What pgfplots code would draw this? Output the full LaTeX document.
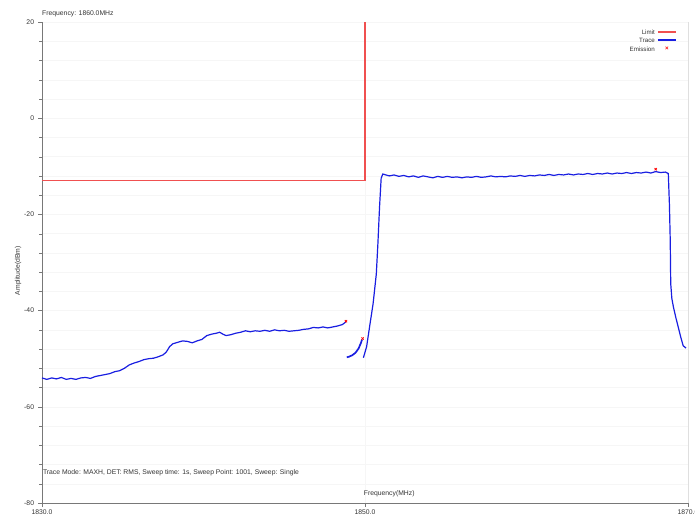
\documentclass[border=0pt]{standalone}
\usepackage{fontspec}
\setmainfont{Liberation Sans}
\usepackage{pgfplots}
\pgfplotsset{compat=1.18}

\definecolor{limitred}{RGB}{240,80,80}
\definecolor{traceblue}{RGB}{25,30,225}
\definecolor{axgray}{RGB}{120,120,120}

\begin{document}
\fontsize{6.8}{7.5}\selectfont
\begin{tikzpicture}
\path[use as bounding box] (-42pt,-19pt) rectangle (653pt,503pt);
\begin{axis}[
    at={(0,0)}, anchor=south west,
    width=646pt, height=481pt, scale only axis,
    xmin=1830, xmax=1870, ymin=-80, ymax=20,
    clip=false,
    axis x line*=bottom, axis y line*=left,
    axis line style={axgray, -},
    xtick={1830,1850,1870},
    ytick={-80,-60,-40,-20,0,20},
    minor y tick num=4,
    tick style={axgray},
    tick align=outside,
    major tick length=4pt, minor tick length=3pt,
    ymajorgrids, yminorgrids, xmajorgrids,
    grid style={gray!7},
    /pgf/number format/assume math mode=true,
    ticklabel style={font=\fontsize{6.8}{7.5}\selectfont, text=black!80},
    yticklabel style={xshift=-1.5pt},
    x tick label style={/pgf/number format/.cd, fixed, fixed zerofill, precision=1, 1000 sep={}},
]
% limit mask
\addplot[color=limitred, line width=1.2pt]
  coordinates {(1830,-13) (1850,-13) (1850,20)};

% trace, out-of-band lower part
\addplot[traceblue, line width=1.2pt] coordinates {
(1830.0,-54.0) (1830.3,-54.3) (1830.6,-54.0) (1830.9,-54.2) (1831.2,-53.9)
(1831.5,-54.3) (1831.8,-54.1) (1832.1,-54.3) (1832.4,-54.0) (1832.7,-53.9)
(1833.0,-54.1) (1833.3,-53.7) (1833.6,-53.5) (1833.9,-53.3) (1834.2,-53.1)
(1834.5,-52.7) (1834.8,-52.5) (1835.1,-52.0) (1835.4,-51.3) (1835.7,-50.9)
(1836.0,-50.6) (1836.3,-50.2) (1836.6,-50.0) (1836.9,-49.9) (1837.2,-49.6)
(1837.5,-49.2) (1837.7,-48.6) (1837.9,-47.5) (1838.1,-46.9) (1838.4,-46.6)
(1838.7,-46.3) (1839.0,-46.4) (1839.3,-46.7) (1839.6,-46.3) (1839.9,-46.0)
(1840.2,-45.2) (1840.5,-44.9) (1840.8,-44.7) (1841.0,-44.5) (1841.2,-44.9)
(1841.4,-45.2) (1841.7,-45.0) (1842.0,-44.7) (1842.3,-44.5) (1842.6,-44.2)
(1842.9,-44.4) (1843.2,-44.2) (1843.5,-44.3) (1843.8,-44.1) (1844.1,-44.3)
(1844.4,-44.0) (1844.7,-44.2) (1845.0,-44.1) (1845.3,-44.3) (1845.6,-44.2)
(1845.9,-44.1) (1846.2,-43.9) (1846.5,-43.8) (1846.8,-43.5) (1847.1,-43.6)
(1847.4,-43.4) (1847.7,-43.6) (1848.0,-43.4) (1848.3,-43.2) (1848.6,-42.9)
(1848.8,-42.4)
};

% trace, short segment below the band edge
\addplot[traceblue, line width=1.7pt] coordinates {
(1848.87,-49.7) (1849.0,-49.6) (1849.2,-49.3) (1849.4,-48.8) (1849.6,-47.9)
(1849.75,-46.7) (1849.82,-46.0)
};

% trace, in-band part
\addplot[traceblue, line width=1.2pt] coordinates {
(1849.9,-49.8) (1850.1,-47.5) (1850.3,-43.0) (1850.5,-38.6) (1850.7,-32.4)
(1850.8,-26.0) (1850.9,-18.5) (1851.0,-12.5) (1851.1,-11.6) (1851.3,-11.8)
(1851.5,-12.0) (1851.8,-11.8) (1852.1,-12.1) (1852.4,-11.9) (1852.7,-12.2)
(1853.0,-12.0) (1853.3,-12.3) (1853.6,-12.0) (1853.9,-12.2) (1854.2,-12.4)
(1854.5,-12.1) (1854.8,-12.3) (1855.1,-12.1) (1855.4,-12.3) (1855.7,-12.2)
(1856.0,-12.4) (1856.3,-12.2) (1856.6,-12.3) (1856.9,-12.1) (1857.2,-12.3)
(1857.5,-12.2) (1857.8,-12.0) (1858.1,-12.2) (1858.4,-12.1) (1858.7,-12.2)
(1859.0,-12.0) (1859.3,-12.1) (1859.6,-11.9) (1859.9,-12.1) (1860.2,-11.9)
(1860.5,-12.0) (1860.8,-11.8) (1861.1,-11.9) (1861.4,-11.7) (1861.7,-11.9)
(1862.0,-11.7) (1862.3,-11.8) (1862.6,-11.6) (1862.9,-11.8) (1863.2,-11.6)
(1863.5,-11.7) (1863.8,-11.5) (1864.1,-11.7) (1864.4,-11.5) (1864.7,-11.6)
(1865.0,-11.4) (1865.3,-11.6) (1865.6,-11.4) (1865.9,-11.5) (1866.2,-11.3)
(1866.5,-11.5) (1866.8,-11.3) (1867.1,-11.4) (1867.4,-11.2) (1867.7,-11.4)
(1868.0,-11.1) (1868.3,-11.3) (1868.6,-11.2) (1868.78,-11.5) (1868.85,-18.0)
(1868.9,-25.4) (1868.93,-34.4) (1869.0,-37.5) (1869.1,-39.3) (1869.25,-41.5)
(1869.4,-43.5) (1869.55,-45.5) (1869.7,-47.3) (1869.88,-47.8)
};

% emission points
\addplot[only marks, mark=x, mark size=1.6pt, red, line width=0.8pt] coordinates {
(1848.82,-42.2) (1849.85,-45.8) (1868.0,-10.6)
};

\draw[gray!25] (axis cs:1870,-80) -- (axis cs:1870,20);

% legend, drawn as text with colour keys
\begin{scope}[font=\fontsize{6.2}{6.5}\selectfont]
\node[anchor=east, inner sep=0pt, text=black!80] at (axis cs:1867.96,17.9) {Limit};
\draw[limitred, line width=1.3pt] (axis cs:1868.14,17.9) -- (axis cs:1869.26,17.9);
\node[anchor=east, inner sep=0pt, text=black!80] at (axis cs:1867.96,16.25) {Trace};
\draw[traceblue, line width=1.3pt] (axis cs:1868.14,16.25) -- (axis cs:1869.26,16.25);
\node[anchor=east, inner sep=0pt, text=black!80] at (axis cs:1867.96,14.4) {Emission};
\node[inner sep=0pt, text=red] at (axis cs:1868.7,14.4) {\textbf{×}};
\end{scope}

\node[anchor=south west, inner sep=0pt, text=black!80] at ([yshift=5pt]axis cs:1830,20) {Frequency: 1860.0MHz};
\node[anchor=west, inner sep=0pt, text=black!80] at (axis cs:1830.05,-73.75) {Trace Mode: MAXH, DET: RMS, Sweep time: 1s, Sweep Point: 1001, Sweep: Single};
\node[text=black!80, inner sep=0pt] at (axis cs:1851.5,-78.1) {Frequency(MHz)};
\node[rotate=90, text=black!80, inner sep=0pt] at ([xshift=-24pt]axis cs:1830,-31.7) {Amplitude(dBm)};
\end{axis}
\end{tikzpicture}
\end{document}
